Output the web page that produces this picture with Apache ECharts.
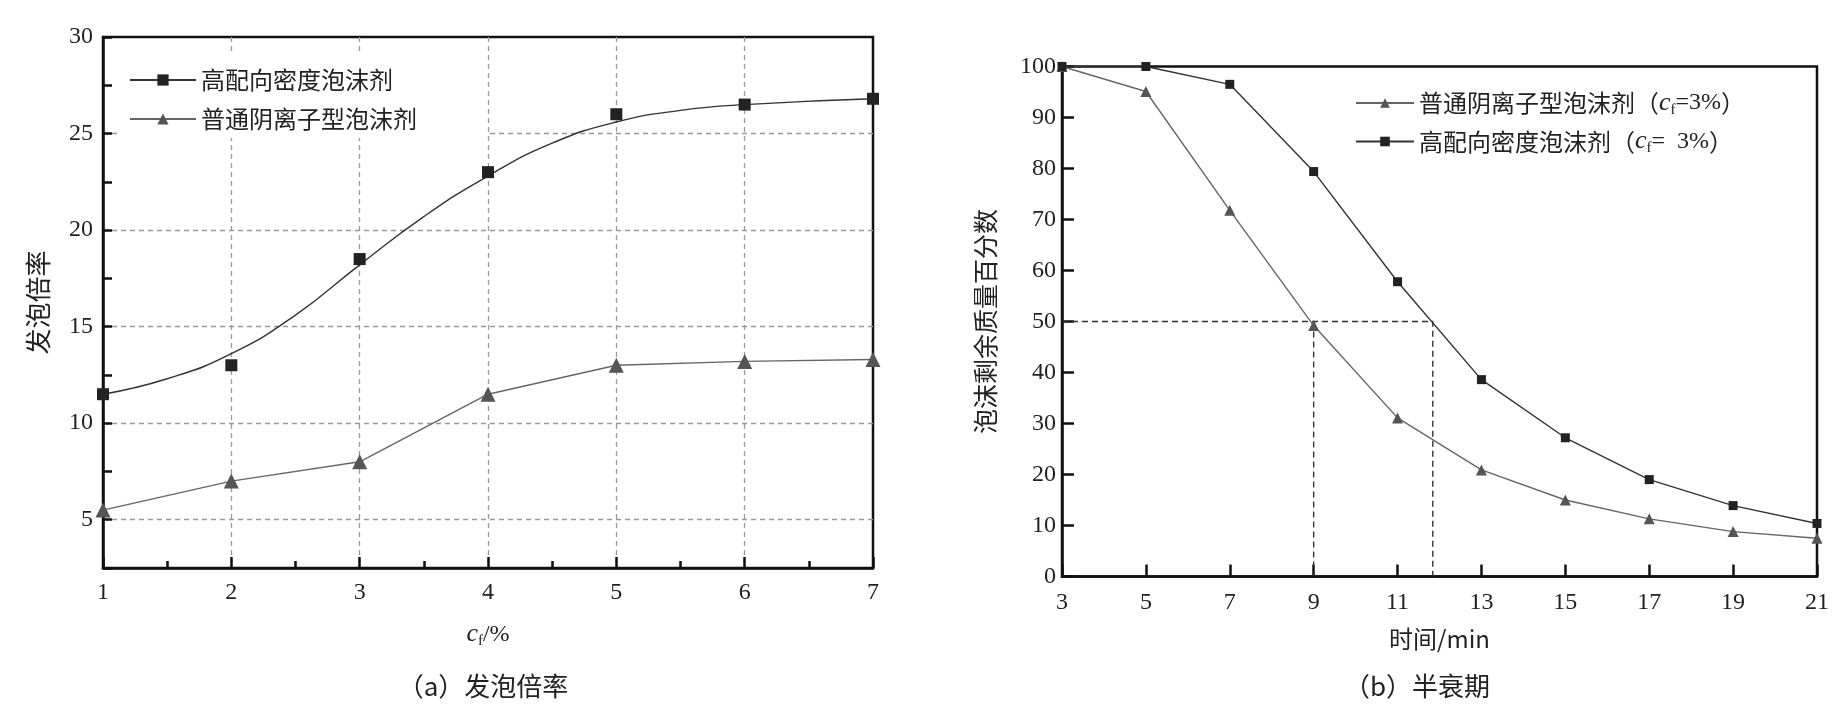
<!DOCTYPE html>
<html>
<head>
<meta charset="utf-8">
<script src="https://cdn.jsdelivr.net/npm/echarts@6/dist/echarts.min.js"></script>
<style>
html, body { margin: 0; padding: 0; background: #fff; }
#container { width: 1842px; height: 706px; }
</style>
</head>
<body>
<div id="container"></div>
<script>
// (a) foam expansion vs concentration
const cfValues = [1, 2, 3, 4, 5, 6, 7];
const highDensityPts = [11.5, 13.0, 18.5, 23.0, 26.0, 26.5, 26.8];
const anionicPts = [5.5, 7.0, 8.0, 11.5, 13.0, 13.2, 13.3];
// fitted curve of the high density agent
const fitX = [1, 1.5, 2, 2.5, 3, 3.5, 4, 4.5, 5, 5.5, 6, 7];
const fitY = [11.5, 12.3, 13.6, 15.6, 18.2, 20.7, 22.8, 24.5, 25.6, 26.2, 26.5, 26.8];

// (b) half-life
const timeCats = ['3', '5', '7', '9', '11', '13', '15', '17', '19', '21'];
const anionicDecay = [100, 95.1, 71.8, 49.2, 31.1, 20.9, 15.0, 11.3, 8.8, 7.5];
const highDensityDecay = [100, 100, 96.5, 79.4, 57.8, 38.6, 27.2, 19.0, 13.9, 10.4];
// half-life guide lines
const guideHigh = [[3, 50], [11.84, 50], [11.84, 0]];
const guideAnionic = [[9, 50], [9, 0]];

const NAME_HD = '高配向密度泡沫剂';
const NAME_AN = '普通阴离子型泡沫剂';
const NAME_AN_B = '普通阴离子型泡沫剂（cf=3%）';
const NAME_HD_B = '高配向密度泡沫剂（cf= 3%）';

const SERIF = 'Liberation Serif';
const CJK = '"Noto Sans CJK SC", "Liberation Serif"';
const RICH = {
    i: { fontFamily: SERIF, fontStyle: 'italic', fontSize: 26, color: '#222' },
    s: { fontFamily: SERIF, fontSize: 15, color: '#222', padding: [14, 0, 0, 0] },
    t: { fontFamily: CJK, fontSize: 24, color: '#222' },
    n: { fontFamily: SERIF, fontSize: 24, color: '#222' }
};

let dom = document.getElementById('container');
let myChart = echarts.init(dom);

function zip(xs, ys) {
    return xs.map(function (x, i) { return [x, ys[i]]; });
}

const axisLine = { show: true, lineStyle: { color: '#111', width: 2.5 } };
const tickLabel = { fontFamily: SERIF, fontSize: 24, color: '#222' };

option = {
    animation: false,
    backgroundColor: '#fff',
    title: [{
        text: '（a）发泡倍率',
        left: 478,
        top: 668,
        textAlign: 'center',
        textStyle: { fontFamily: CJK, fontSize: 26, fontWeight: 'normal', color: '#222' }
    }, {
        text: '（b）半衰期',
        left: 1412,
        top: 668,
        textAlign: 'center',
        textStyle: { fontFamily: CJK, fontSize: 26, fontWeight: 'normal', color: '#222' }
    }],
    legend: [{
        orient: 'vertical',
        left: 121,
        top: 54,
        padding: [13, 70, 6, 8],
        backgroundColor: '#fff',
        itemWidth: 66,
        itemHeight: 14,
        itemGap: 13,
        data: [NAME_HD, NAME_AN],
        textStyle: { fontFamily: CJK, fontSize: 24, lineHeight: 26, color: '#222' }
    }, {
        orient: 'vertical',
        left: 1355,
        top: 90,
        padding: 0,
        itemWidth: 58,
        itemHeight: 12,
        itemGap: 11,
        data: [NAME_AN_B, NAME_HD_B],
        formatter: function (name) {
            if (name === NAME_AN_B) {
                return '{t|普通阴离子型泡沫剂（}{i|c}{s|f}{n|=3%}{t|）}';
            }
            return '{t|高配向密度泡沫剂（}{i|c}{s|f}{n|=  3%}{t|）}';
        },
        textStyle: { fontFamily: CJK, fontSize: 24, lineHeight: 26, color: '#222', rich: RICH }
    }],
    grid: [{
        left: 103, top: 37, width: 770, height: 531,
        show: true, borderColor: '#111', borderWidth: 2.5
    }, {
        left: 1062, top: 66.5, width: 755, height: 510,
        show: true, borderColor: '#111', borderWidth: 2.5
    }],
    xAxis: [{
        gridIndex: 0,
        type: 'value',
        min: 1, max: 7, interval: 1,
        name: '{i|c}{s|f}{n|/%}',
        nameLocation: 'middle',
        nameGap: 52,
        nameTextStyle: { rich: RICH },
        axisLine: axisLine,
        axisTick: { inside: true, length: 11, lineStyle: { color: '#111', width: 2.5 } },
        minorTick: { show: true, splitNumber: 2, length: 7, lineStyle: { color: '#111', width: 2.5 } },
        axisLabel: Object.assign({ margin: 13 }, tickLabel),
        splitLine: {
            show: true, showMinLine: false, showMaxLine: false,
            lineStyle: { color: '#999', type: [5, 4], width: 1.3 }
        }
    }, {
        gridIndex: 1,
        type: 'category',
        data: timeCats,
        boundaryGap: false,
        name: '时间/min',
        nameLocation: 'middle',
        nameGap: 50,
        nameTextStyle: { fontFamily: CJK, fontSize: 24, color: '#222' },
        axisLine: axisLine,
        axisTick: { inside: true, length: 12, alignWithLabel: true, lineStyle: { color: '#111', width: 2.5 } },
        axisLabel: Object.assign({ margin: 14, interval: 0 }, tickLabel),
        splitLine: { show: false }
    }, {
        // hidden value axis for the half-life guides
        gridIndex: 1,
        type: 'value',
        min: 3, max: 21,
        show: false
    }],
    yAxis: [{
        gridIndex: 0,
        type: 'value',
        min: 2.5, max: 30, interval: 2.5,
        name: '发泡倍率',
        nameLocation: 'middle',
        nameGap: 52,
        nameTextStyle: { fontFamily: CJK, fontSize: 26, color: '#222' },
        axisLine: axisLine,
        axisTick: { inside: true, length: 9, lineStyle: { color: '#111', width: 2.5 } },
        axisLabel: Object.assign({
            margin: 10,
            formatter: function (v) { return v % 5 === 0 ? String(v) : ''; }
        }, tickLabel),
        splitLine: {
            show: true, showMaxLine: false,
            lineStyle: { color: ['rgba(0,0,0,0)', '#999'], type: [5, 4], width: 1.3 }
        }
    }, {
        gridIndex: 1,
        type: 'value',
        min: 0, max: 100, interval: 10,
        name: '泡沫剩余质量百分数',
        nameLocation: 'middle',
        nameGap: 64,
        nameTextStyle: { fontFamily: CJK, fontSize: 25, color: '#222' },
        axisLine: axisLine,
        axisTick: { inside: true, length: 12, lineStyle: { color: '#111', width: 2.5 } },
        axisLabel: Object.assign({ margin: 6 }, tickLabel),
        splitLine: { show: false }
    }],
    series: [{
        name: NAME_HD,
        type: 'line',
        xAxisIndex: 0, yAxisIndex: 0,
        data: zip(fitX, fitY),
        smooth: 0.5,
        symbol: 'rect',
        showSymbol: false,
        color: '#222',
        lineStyle: { color: '#333', width: 1.4 },
        z: 3
    }, {
        name: 'hd-points',
        type: 'scatter',
        xAxisIndex: 0, yAxisIndex: 0,
        data: zip(cfValues, highDensityPts),
        symbol: 'rect',
        symbolSize: 12,
        itemStyle: { color: '#222', opacity: 1 },
        z: 4
    }, {
        name: NAME_AN,
        type: 'line',
        xAxisIndex: 0, yAxisIndex: 0,
        data: zip(cfValues, anionicPts),
        symbol: 'triangle',
        symbolSize: 15,
        color: '#555',
        itemStyle: { color: '#555' },
        lineStyle: { color: '#666', width: 1.4 },
        z: 4
    }, {
        name: 'guide-high',
        type: 'line',
        xAxisIndex: 2, yAxisIndex: 1,
        data: guideHigh,
        symbol: 'none',
        lineStyle: { color: '#333', width: 1.4, type: [6, 4] },
        z: 2
    }, {
        name: 'guide-anionic',
        type: 'line',
        xAxisIndex: 2, yAxisIndex: 1,
        data: guideAnionic,
        symbol: 'none',
        lineStyle: { color: '#333', width: 1.4, type: [6, 4] },
        z: 2
    }, {
        name: NAME_AN_B,
        type: 'line',
        xAxisIndex: 1, yAxisIndex: 1,
        data: anionicDecay,
        symbol: 'triangle',
        symbolSize: 11,
        color: '#555',
        itemStyle: { color: '#555' },
        lineStyle: { color: '#666', width: 1.4 },
        z: 4
    }, {
        name: NAME_HD_B,
        type: 'line',
        xAxisIndex: 1, yAxisIndex: 1,
        data: highDensityDecay,
        symbol: 'rect',
        symbolSize: 9,
        color: '#222',
        itemStyle: { color: '#222' },
        lineStyle: { color: '#333', width: 1.4 },
        z: 4
    }]
};

if (option && typeof option === 'object') {
    myChart.setOption(option, true);
}
window.addEventListener('resize', function () {
    myChart.resize();
});
</script>
</body>
</html>
